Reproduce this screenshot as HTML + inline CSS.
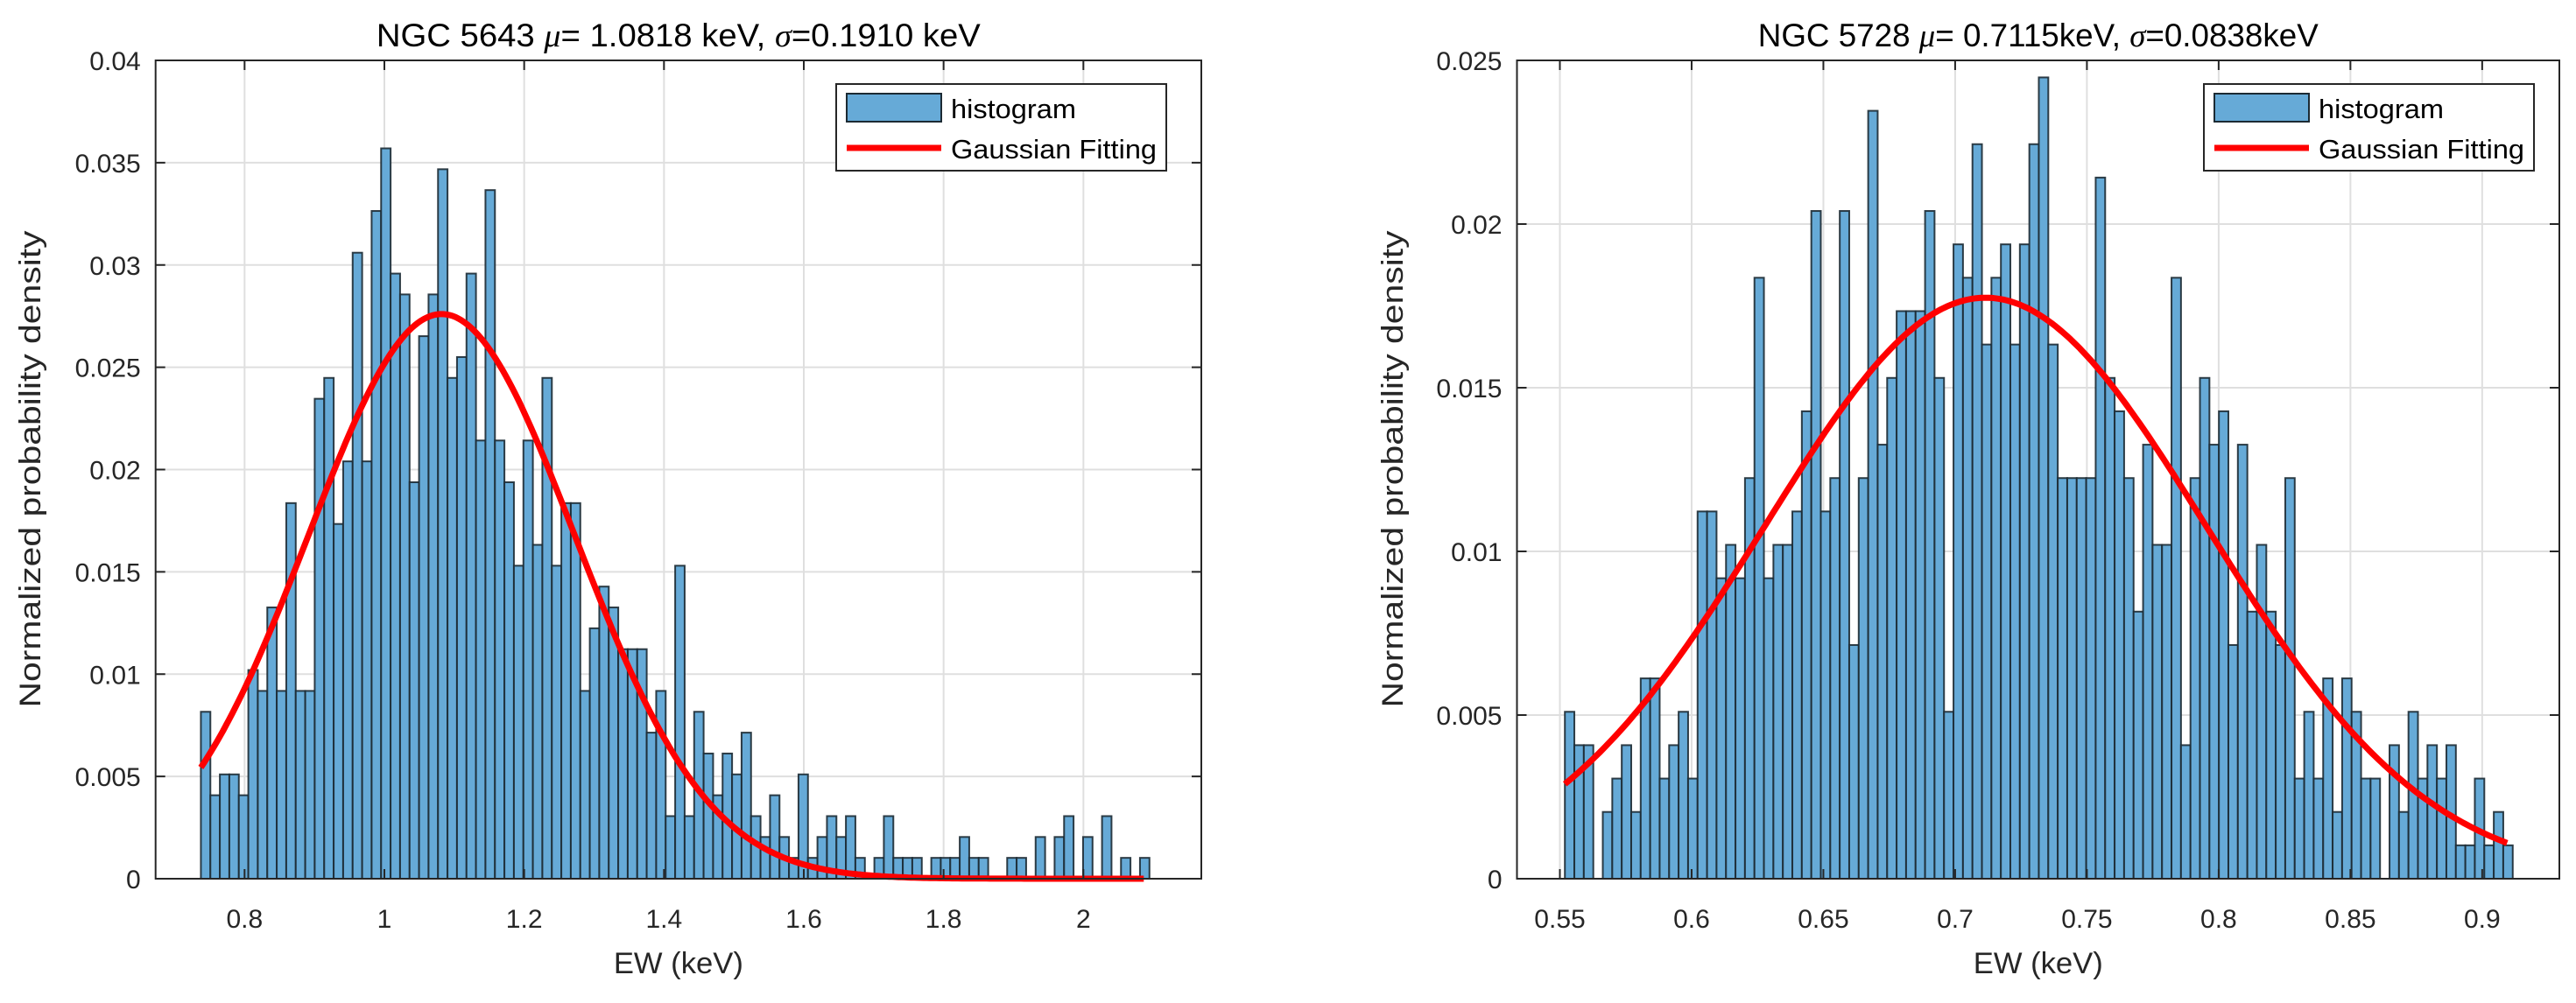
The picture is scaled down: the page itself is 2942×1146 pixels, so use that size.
<!DOCTYPE html>
<html><head><meta charset="utf-8"><style>
html,body{margin:0;padding:0;background:#fff;}
svg{display:block;font-family:"Liberation Sans",Arial,sans-serif;}
</style></head><body>
<svg id="fig" width="2942" height="1146" viewBox="0 0 2942 1146" xmlns="http://www.w3.org/2000/svg"></svg>
<script>
// ---- Left panel data (NGC 5643) ----
const leftCounts = [8,4,5,5,4,10,9,13,9,18,9,9,23,24,17,20,30,20,32,35,29,28,19,26,28,34,24,25,29,21,33,21,19,15,21,16,24,15,18,18,9,12,14,13,11,11,11,7,9,3,15,3,8,6,4,6,5,7,3,2,4,2,1,5,1,2,3,2,3,1,0,1,3,1,1,1,0,1,1,1,2,1,1,0,0,1,1,0,2,0,2,3,0,2,0,3,0,1,0,1];
const leftUnit = 0.00102;
const leftBinStart = 0.7375;
const leftBinWidth = 0.01357;
const leftFit = [1.0818, 0.1910, 0.0276]; // mu, sigma, peak
const leftXTicks = [0.8,1,1.2,1.4,1.6,1.8,2];
const leftXTickLabels = ["0.8","1","1.2","1.4","1.6","1.8","2"];
const leftYTicks = [0,0.005,0.01,0.015,0.02,0.025,0.03,0.035,0.04];
const leftYTickLabels = ["0","0.005","0.01","0.015","0.02","0.025","0.03","0.035","0.04"];
const leftTitle = "NGC 5643 <tspan font-style=\"italic\" font-family=\"Liberation Serif\">μ</tspan>= 1.0818 keV, <tspan font-style=\"italic\" font-family=\"Liberation Serif\">σ</tspan>=0.1910 keV";

// ---- Right panel data (NGC 5728) ----
const rightCounts = [5,4,4,0,2,3,4,2,6,6,3,4,5,3,11,11,9,10,9,12,18,9,10,10,11,14,20,11,12,20,7,12,23,13,15,17,17,17,20,15,5,19,18,22,16,18,19,16,19,22,24,16,12,12,12,12,21,15,14,12,8,13,10,10,18,4,12,15,13,14,7,13,8,10,8,7,12,3,5,3,6,2,6,5,3,3,0,4,2,5,3,4,3,4,1,1,3,1,2,1];
const rightUnit = 0.00102;
const rightBinStart = 0.5519;
const rightBinWidth = 0.003597;
const rightFit = [0.7115, 0.0838, 0.01775];
const rightXTicks = [0.55,0.6,0.65,0.7,0.75,0.8,0.85,0.9];
const rightXTickLabels = ["0.55","0.6","0.65","0.7","0.75","0.8","0.85","0.9"];
const rightYTicks = [0,0.005,0.01,0.015,0.02,0.025];
const rightYTickLabels = ["0","0.005","0.01","0.015","0.02","0.025"];
const rightTitle = "NGC 5728 <tspan font-style=\"italic\" font-family=\"Liberation Serif\">μ</tspan>= 0.7115keV, <tspan font-style=\"italic\" font-family=\"Liberation Serif\">σ</tspan>=0.0838keV";

const NS = "http://www.w3.org/2000/svg";
const svg = document.getElementById('fig');
function mk(tag, attrs, parent){
  const e = document.createElementNS(NS, tag);
  for (const k in attrs) e.setAttribute(k, attrs[k]);
  (parent||svg).appendChild(e);
  return e;
}

function panel(p){
  const g = mk('g', {});
  
  
  const L=p.L,R=p.R,T=69,B=1004;
  const xs = v => L + (v - p.xmin)/(p.xmax - p.xmin)*(R-L);
  const ys = v => B - (v - 0)/(p.ymax)*(B-T);
  p.xTicks.forEach(t=>{
    const l = mk('line',{x1:xs(t),x2:xs(t),y1:T,y2:B,stroke:'#dfdfdf','stroke-width':2},g);
    
    
  });
  p.yTicks.forEach(t=>{
    const l = mk('line',{x1:L,x2:R,y1:ys(t),y2:ys(t),stroke:'#dfdfdf','stroke-width':2},g);
    
    
  });
  const bg = mk('g',{},g);
  
  
  p.counts.forEach((c,i)=>{
    const x0 = xs(p.binStart + i*p.binWidth), x1 = xs(p.binStart + (i+1)*p.binWidth);
    const y0 = ys(c*p.unit);
    const r = mk('rect',{x:x0,y:y0,width:x1-x0,height:B-y0,fill:'#66aad7',stroke:'#1c2a33','stroke-width':2,'stroke-opacity':0.9},bg);
    
    
  });
  const xa = p.binStart, xb = p.binStart + p.counts.length*p.binWidth - p.binWidth*0.6;
  let d='';
  for(let k=0;k<=300;k++){
    const v = xa + (xb-xa)*k/300;
    const yv = p.fit[2]*Math.exp(-Math.pow(v-p.fit[0],2)/(2*p.fit[1]*p.fit[1]));
    d += (k?'L':'M') + xs(v).toFixed(1) + ',' + ys(yv).toFixed(1);
  }
  const path = mk('path',{d:d,fill:'none',stroke:'#ff0000','stroke-width':7,'stroke-linejoin':'round'},g);
  
  
  const box = mk('rect',{x:L,y:T,width:R-L,height:B-T,fill:'none',stroke:'#262626','stroke-width':2},g);
  
  
  p.xTicks.forEach((t,i)=>{
    mk('line',{x1:xs(t),x2:xs(t),y1:B,y2:B-11,stroke:'#262626','stroke-width':2},g);
    mk('line',{x1:xs(t),x2:xs(t),y1:T,y2:T+11,stroke:'#262626','stroke-width':2},g);
    const tx = mk('text',{x:xs(t),y:1060,'font-size':30,'text-anchor':'middle',fill:'#262626'},g);
    tx.textContent = p.xLabels[i];
    
    
  });
  p.yTicks.forEach((t,i)=>{
    mk('line',{x1:L,x2:L+11,y1:ys(t),y2:ys(t),stroke:'#262626','stroke-width':2},g);
    mk('line',{x1:R,x2:R-11,y1:ys(t),y2:ys(t),stroke:'#262626','stroke-width':2},g);
    const ty = mk('text',{x:L-17,y:ys(t)+11,'font-size':30,'text-anchor':'end',fill:'#262626'},g);
    ty.textContent = p.yLabels[i];
    
    
  });
  const tt = mk('text',{x:(L+R)/2,y:53,'font-size':37,'text-anchor':'middle',fill:'#000',textLength:p.titleLen,lengthAdjust:'spacingAndGlyphs'},g);
  tt.innerHTML = p.title;
  
  
  const xt = mk('text',{x:(L+R)/2,y:1112,'font-size':34,'text-anchor':'middle',fill:'#262626',textLength:148,lengthAdjust:'spacingAndGlyphs'},g);
  xt.textContent = 'EW (keV)';
  
  
  const yt = mk('text',{x:0,y:0,'font-size':34,'text-anchor':'middle',fill:'#262626',textLength:545,lengthAdjust:'spacingAndGlyphs',transform:`translate(${p.yLabX},536) rotate(-90)`},g);
  yt.textContent = 'Normalized probability density';
  
  
  const lg = mk('g',{},g);
  
  
  const lx = p.legX;
  mk('rect',{x:lx,y:96,width:377,height:99,fill:'#fff',stroke:'#262626','stroke-width':2},lg);
  const lp = mk('rect',{x:lx+12,y:107,width:108,height:32,fill:'#66aad7',stroke:'#1c2a33','stroke-width':2},lg);
  
  
  const ll = mk('line',{x1:lx+12,x2:lx+120,y1:169,y2:169,stroke:'#ff0000','stroke-width':7},lg);
  
  
  const l1 = mk('text',{x:lx+131,y:135,'font-size':31,fill:'#000',textLength:143,lengthAdjust:'spacingAndGlyphs'},lg);
  l1.textContent='histogram';
  
  
  const l2 = mk('text',{x:lx+131,y:181,'font-size':31,fill:'#000',textLength:235,lengthAdjust:'spacingAndGlyphs'},lg);
  l2.textContent='Gaussian Fitting';
  
  
}

panel({name:'left-panel-ngc5643',L:177.7,R:1372,xmin:0.6727,xmax:2.1687,ymax:0.04,
  counts:leftCounts,unit:leftUnit,binStart:leftBinStart,binWidth:leftBinWidth,fit:leftFit,
  xTicks:leftXTicks,xLabels:leftXTickLabels,yTicks:leftYTicks,yLabels:leftYTickLabels,
  title:leftTitle,titleLen:690,yLabX:46,legX:955});
panel({name:'right-panel-ngc5728',L:1732.5,R:2923,xmin:0.53372,xmax:0.92929,ymax:0.025,
  counts:rightCounts,unit:rightUnit,binStart:rightBinStart,binWidth:rightBinWidth,fit:rightFit,
  xTicks:rightXTicks,xLabels:rightXTickLabels,yTicks:rightYTicks,yLabels:rightYTickLabels,
  title:rightTitle,titleLen:640,yLabX:1602,legX:2517});
</script>
</body></html>
